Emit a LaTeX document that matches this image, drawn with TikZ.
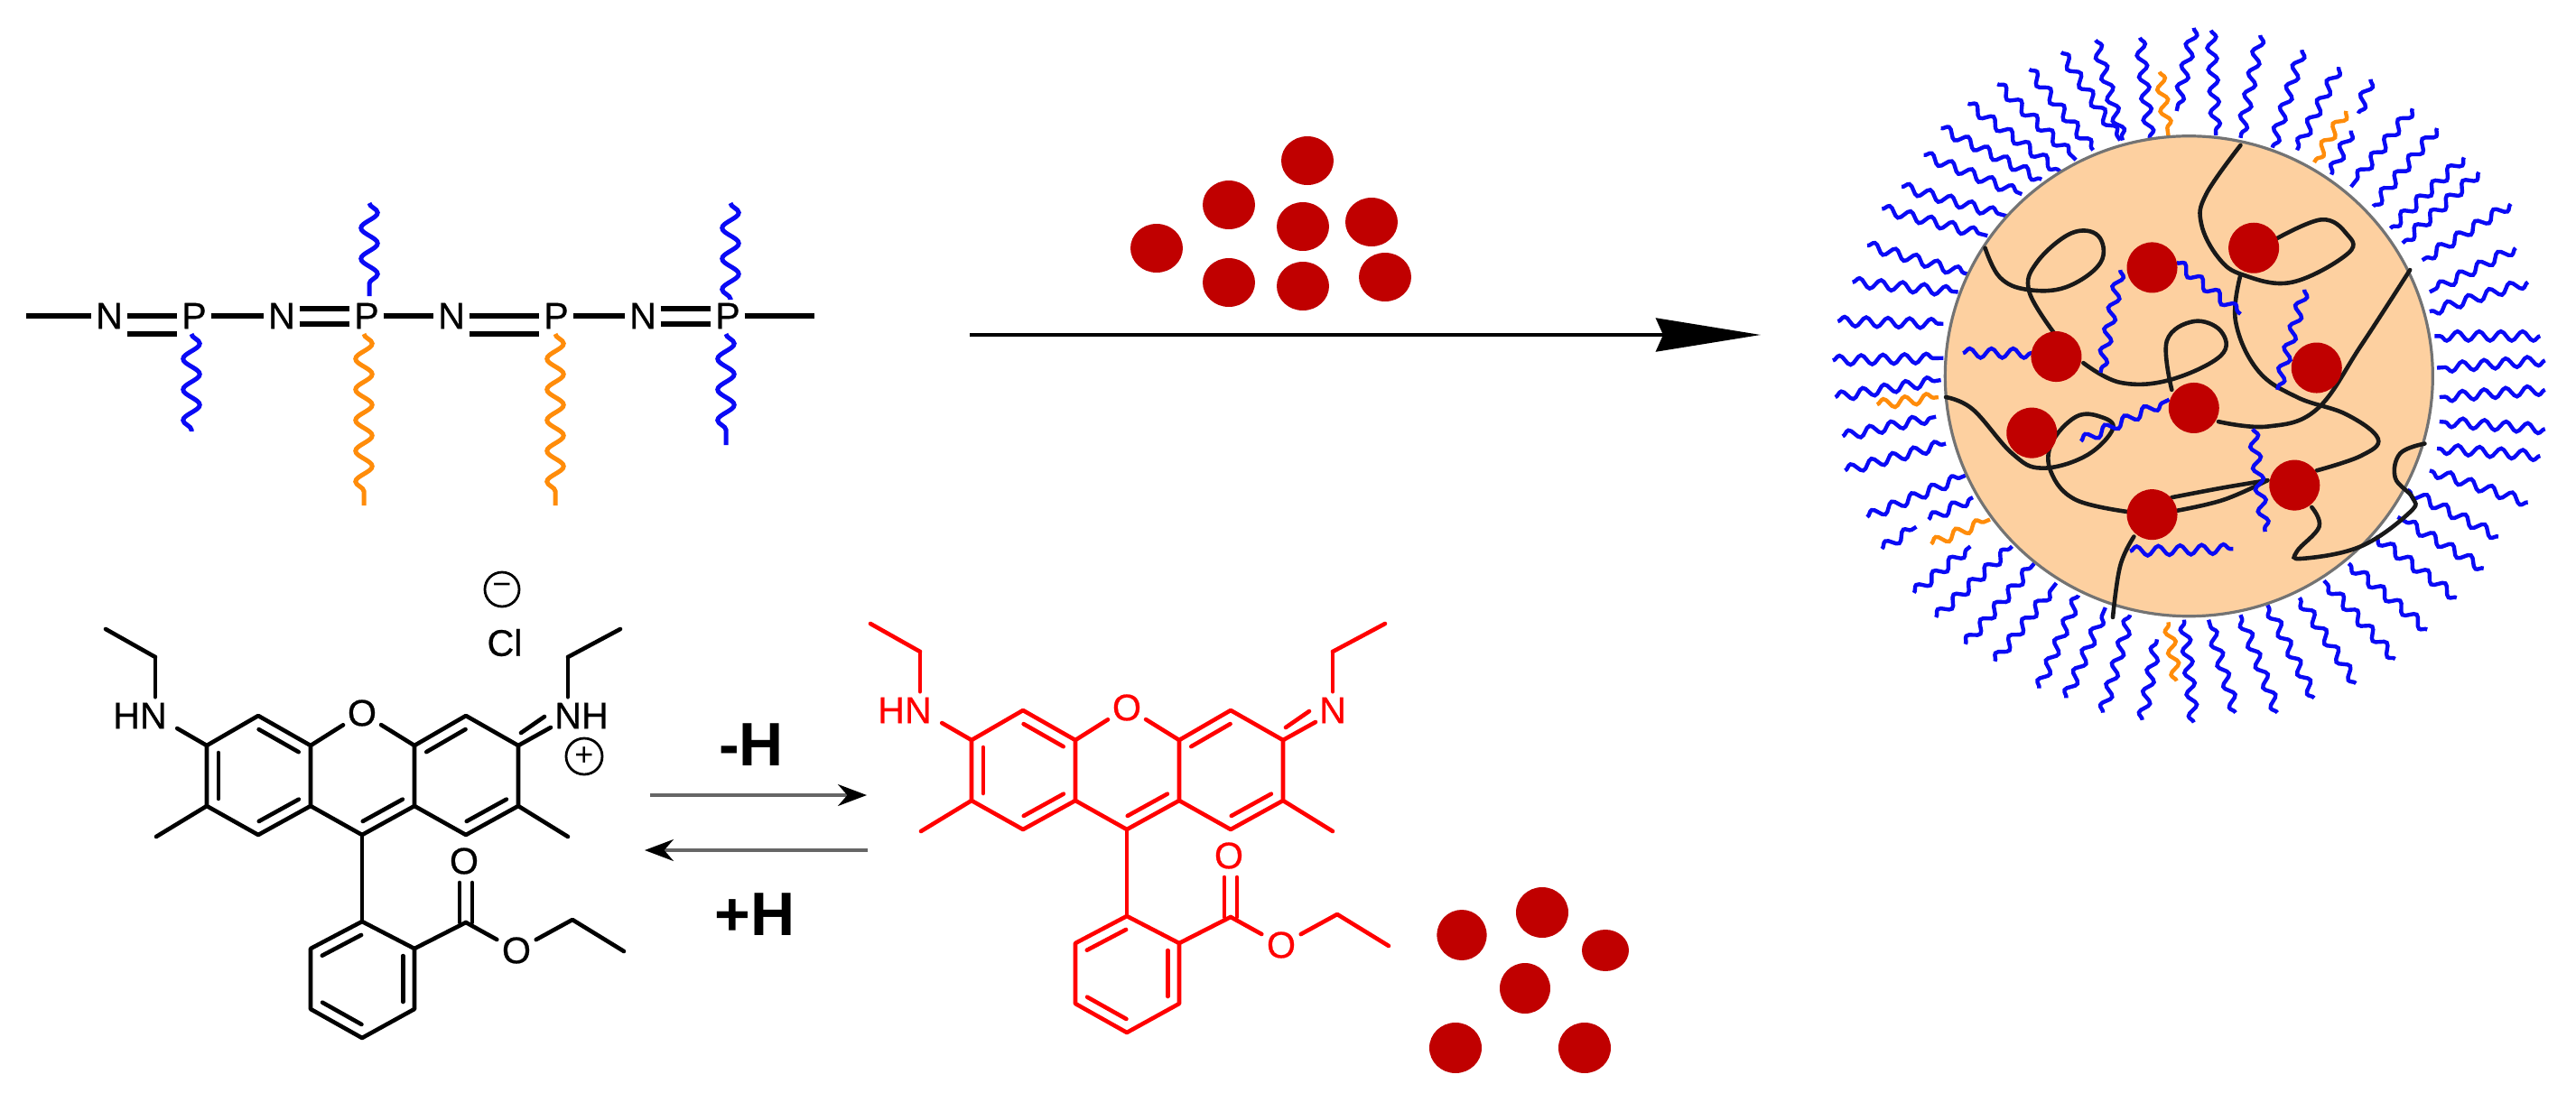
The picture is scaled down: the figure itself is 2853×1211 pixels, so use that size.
\documentclass[tikz,border=0pt]{standalone}
\usepackage{fontspec}
\setmainfont{Liberation Sans}
\newfontfamily\atomfont[FakeBold=0.6]{Liberation Sans}
\usetikzlibrary{calc,decorations.pathmorphing,arrows.meta,shapes.geometric}
\definecolor{brick}{RGB}{192,0,0}
\definecolor{chainblue}{RGB}{10,10,245}
\definecolor{chainorange}{RGB}{255,140,10}
\definecolor{ballfill}{RGB}{253,208,160}
\tikzset{
  atomlabel/.style={inner sep=1pt,font=\atomfont\fontsize{10.3}{12}\selectfont},
  ringatom/.style={circle,inner sep=0pt,minimum size=12pt,font=\atomfont\fontsize{10.3}{12}\selectfont},
  backbone/.style={line width=1.4pt,black},
  bondline/.style={line width=1.15pt,line cap=round,line join=round},
  longwave/.style={line width=1.25pt,decorate,decoration={snake,segment length=8.5pt,amplitude=2.3pt}},
  shortwave/.style={line width=1.1pt,decorate,decoration={snake,segment length=6pt,amplitude=1.3pt}},
  dot/.style={ellipse,fill=brick,draw=none,inner sep=0pt},
  polymer/.style={line width=1.15pt,black!90,smooth,tension=0.65,line cap=round},
  thinarrow/.style={line width=0.8pt,black!60,-{Stealth[length=8pt,width=6pt,black]}},
}
\newcommand{\innerbond}[2]{\draw[bondline] ($(#1)!.12!(#2)!3.2pt!90:(#2)$) -- ($(#2)!.12!(#1)!-3.2pt!90:(#1)$);}
\newcommand{\rhodamine}[6]{%
\begin{scope}[shift={(#2,#3)},draw=#4,text=#4]
  \coordinate (#1a) at (286,793); \coordinate (#1b) at (229,826); \coordinate (#1c) at (229,893);
  \coordinate (#1d) at (286,925); \coordinate (#1e) at (344,893); \coordinate (#1f) at (344,826);
  \coordinate (#1g) at (401,925); \coordinate (#1h) at (459,893); \coordinate (#1i) at (459,826);
  \coordinate (#1j) at (516,793); \coordinate (#1k) at (574,826); \coordinate (#1l) at (574,893);
  \coordinate (#1m) at (516,925);
  \node[ringatom] (#1ox) at (401,790) {O};
  \node[atomlabel] (#1hn) at (155,793) {HN};
  \coordinate (#1nl) at (172,793);
  \node[atomlabel] (#1nr) at (#5,793) {#6};
  \coordinate (#1nn) at (629,793);
  \draw[bondline] (#1a) -- (#1b) -- (#1c) -- (#1d) -- (#1e) -- (#1f) -- cycle;
  \draw[bondline] (#1e) -- (#1g) -- (#1h) -- (#1i);
  \draw[bondline] (#1i) -- (#1j) -- (#1k) -- (#1l) -- (#1m) -- (#1h);
  \draw[bondline] (#1f) -- (#1ox); \draw[bondline] (#1ox) -- (#1i);
  \innerbond{#1f}{#1a} \innerbond{#1b}{#1c} \innerbond{#1d}{#1e}
  \innerbond{#1g}{#1h} \innerbond{#1j}{#1i} \innerbond{#1m}{#1l}
  \coordinate (#1cl) at (172,728); \coordinate (#1ml) at (117,697);
  \coordinate (#1cr) at (629,728); \coordinate (#1mr) at (687,697);
  \draw[bondline] (#1cl) -- (#1ml); \draw[bondline,shorten >=5.2pt] (#1cl) -- (#1nl);
  \draw[bondline] (#1cr) -- (#1mr); \draw[bondline,shorten >=5.2pt] (#1cr) -- (#1nn);
  \draw[bondline,shorten >=7pt] (#1b) -- (#1nl);
  \draw[bondline] (#1k) -- ++(36,-20);
  \draw[bondline] (#1k) ++(3,-14) -- ++(26,-18);
  \coordinate (#1me1) at (173,927); \coordinate (#1me2) at (629,927);
  \draw[bondline] (#1c) -- (#1me1); \draw[bondline] (#1l) -- (#1me2);
  % phenyl
  \coordinate (#1pa) at (401,1021); \coordinate (#1pb) at (344,1051); \coordinate (#1pc) at (344,1118);
  \coordinate (#1pd) at (401,1150); \coordinate (#1pe) at (459,1118); \coordinate (#1pf) at (459,1051);
  \draw[bondline] (#1g) -- (#1pa);
  \draw[bondline] (#1pa) -- (#1pb) -- (#1pc) -- (#1pd) -- (#1pe) -- (#1pf) -- cycle;
  \innerbond{#1pa}{#1pb} \innerbond{#1pc}{#1pd} \innerbond{#1pe}{#1pf}
  % ester
  \coordinate (#1cc) at (516,1022);
  \node[ringatom] (#1co) at (514,954) {O};
  \node[ringatom] (#1eo) at (572,1053) {O};
  \coordinate (#1e1) at (634,1019); \coordinate (#1e2) at (691,1054);
  \draw[bondline] (#1pf) -- (#1cc);
  \draw[bondline] (#1cc) ++(-7,0) -- ++(0,-44);
  \draw[bondline] (#1cc) ++(7,0) -- ++(0,-44);
  \draw[bondline] (#1cc) -- (#1eo); \draw[bondline] (#1eo) -- (#1e1) -- (#1e2);
\end{scope}}
\begin{document}
\begin{tikzpicture}[x=0.25pt,y=-0.25pt]
\useasboundingbox (0,0) rectangle (2853,1211);
\fill[white] (0,0) rectangle (2853,1211);
% polyphosphazene
\coordinate (bl) at (29,350); \coordinate (br) at (902,350);
\node[atomlabel] (n1) at (121,350) {N}; \node[atomlabel] (p1) at (215,350) {P};
\node[atomlabel] (n2) at (312,350) {N}; \node[atomlabel] (p2) at (406,350) {P};
\node[atomlabel] (n3) at (500,350) {N}; \node[atomlabel] (p3) at (616,350) {P};
\node[atomlabel] (n4) at (712,350) {N}; \node[atomlabel] (p4) at (806,350) {P};
\draw[backbone] (bl) -- (n1);
\draw[backbone] (n1) -- (p1); \draw[backbone] ($(n1.east)+(0,20)$) -- ($(p1.west)+(0,20)$);
\draw[backbone] (p1) -- (n2);
\draw[backbone] ($(n2.east)+(0,-8)$) -- ($(p2.west)+(0,-8)$); \draw[backbone] ($(n2.east)+(0,9)$) -- ($(p2.west)+(0,9)$);
\draw[backbone] (p2) -- (n3);
\draw[backbone] (n3) -- (p3); \draw[backbone] ($(n3.east)+(0,20)$) -- ($(p3.west)+(0,20)$);
\draw[backbone] (p3) -- (n4);
\draw[backbone] ($(n4.east)+(0,-8)$) -- ($(p4.west)+(0,-8)$); \draw[backbone] ($(n4.east)+(0,9)$) -- ($(p4.west)+(0,9)$);
\draw[backbone] (p4) -- (br);
\draw[longwave,chainblue] (212,370) -- (212,478);
\draw[longwave,chainblue] (409,225) -- (409,328);
\draw[longwave,chainorange] (403,370) -- (403,560);
\draw[longwave,chainorange] (615,370) -- (615,560);
\draw[longwave,chainblue] (809,225) -- (809,332);
\draw[longwave,chainblue] (804,370) -- (804,493);
% arrow and dots
\coordinate (ra) at (1074,371); \coordinate (rb) at (1950,371);
\draw[line width=1pt,-{Stealth[length=29pt,width=9.25pt,inset=2pt]}] (ra) -- (rb);
\foreach \name/\px/\py in {t1/1448/178,t2/1361/227,t3/1443/251,t4/1519/246,t5/1281/275,t6/1361/313,t7/1443/317,t8/1534/307}
  \node[dot,minimum width=14.5pt,minimum height=13.5pt] (\name) at (\px,\py) {};
% molecules
\rhodamine{k}{0}{0}{black}{644}{NH}
\rhodamine{r}{847}{-6}{red}{629}{N}
\node[circle,draw,line width=0.7pt,minimum size=10pt,inner sep=0pt,font=\fontsize{9}{9}\selectfont] (plus) at (647,838) {+};
\node[circle,draw,line width=0.7pt,minimum size=9.5pt,inner sep=0pt,font=\fontsize{9}{9}\selectfont] (minus) at (556,653) {−};
\node[atomlabel] (cl) at (559,712) {Cl};
\node[font=\bfseries\fontsize{17}{20}\selectfont] (mh) at (832,825) {-H};
\node[font=\bfseries\fontsize{17}{20}\selectfont] (ph) at (836,1013) {+H};
\coordinate (u1) at (720,881); \coordinate (u2) at (960,881);
\coordinate (d1) at (961,942); \coordinate (d2) at (714,942);
\draw[thinarrow] (u1) -- (u2);
\draw[thinarrow] (d1) -- (d2);
\foreach \name/\px/\py/\w/\h in {s1/1619/1036/13.8/14,s2/1708/1011/14.5/14,s3/1778/1053/13/11.5,s4/1689/1095/14/14,s5/1612/1161/14.5/14,s6/1755/1161/14.5/14}
  \node[dot,minimum width=\w pt,minimum height=\h pt] (\name) at (\px,\py) {};
% nanoparticle (zoom-crop coordinates)
\begin{scope}[shift={(2000,20)},x=0.136pt,y=-0.1355pt]
\foreach \xa/\ya/\xb/\yb in {790/20/755/190,825/25/835/240,925/35/885/245,1010/65/950/265,1085/100/1000/270,1150/125/1125/195,1110/230/1070/320,1235/185/1110/345,1285/225/1155/385,1340/285/1190/430,1370/315/1215/460,1435/380/1255/495,1445/470/1270/560,1470/540/1270/600,1495/650/1280/650,1505/700/1285/715,1505/760/1290/775,1505/840/1290/825,1495/895/1285/880,1470/990/1270/925,1410/1060/1225/965,1380/1125/1205/1020,1325/1185/1160/1060,1265/1250/1105/1115,1200/1310/1055/1150,1120/1360/1005/1185,1035/1390/940/1200,960/1420/885/1220,875/1420/820/1230,790/1440/770/1230,685/1435/715/1270,605/1420/660/1220,530/1390/610/1205,475/1370/555/1180,385/1315/510/1155,325/1280/465/1115,265/1225/420/1080,220/1175/335/1080,155/1085/225/1040,250/1025/340/980,125/1020/325/935,80/925/285/870,75/855/265/815,60/775/275/740,55/700/280/695,65/620/280/625,95/540/310/560,125/465/335/525,155/390/370/445,195/345/410/405,240/280/440/360,275/225/480/330,330/175/520/315,390/135/550/290,455/105/585/270,520/70/640/250,590/45/645/250,680/40/700/245}
  \draw[shortwave,chainblue] (\xa,\ya) -- (\xb,\yb);
\foreach \xa/\ya/\xb/\yb in {720/110/738/240,1100/190/1035/295,755/1355/738/1235,255/1075/375/1025,145/790/270/775}
  \draw[shortwave,chainorange] (\xa,\ya) -- (\xb,\yb);
\node[ellipse,draw=black!55,line width=0.8pt,fill=ballfill,minimum width=135pt,minimum height=133pt,inner sep=0pt] (ball) at (780,732) {};
\draw[polymer] plot coordinates {(365,470) (395,530) (450,555) (530,550) (600,500) (595,445) (540,440) (470,500) (455,560) (510,650)};
\draw[polymer] plot coordinates {(565,705) (640,745) (740,740) (845,690) (845,640) (790,620) (735,660) (745,760)};
\draw[polymer] plot coordinates {(840,825) (940,835) (1040,800) (1130,670) (1230,515)};
\draw[polymer] plot coordinates {(885,260) (815,360) (805,420) (840,490) (890,525) (990,540) (1105,480) (1100,440) (1050,412) (960,450)};
\draw[polymer] plot coordinates {(885,525) (875,620) (920,720) (1000,775) (1100,810) (1165,860) (1130,895) (1040,925)};
\draw[polymer] plot coordinates {(1030,1000) (1045,1040) (1000,1090) (1010,1105) (1130,1080) (1230,1010) (1235,980) (1200,940) (1210,890) (1260,870)};
\draw[polymer] plot coordinates {(285,775) (340,800) (420,890) (480,920) (570,895) (625,840) (600,815) (550,815) (500,870) (500,930) (550,985) (660,1010)};
\draw[polymer] plot coordinates {(745,980) (850,960) (940,945)};
\draw[polymer] plot coordinates {(750,1008) (850,985) (940,945)};
\draw[polymer] plot coordinates {(668,1060) (640,1120) (625,1225)};
\foreach \xa/\ya/\xb/\yb in {320/685/460/685,640/515/600/725,755/500/885/605,1015/555/960/760,560/865/740/780,910/840/935/1050,660/1090/870/1085}
  \draw[shortwave,chainblue] (\xa,\ya) -- (\xb,\yb);
\foreach \name/\px/\py in {m1/705/510,m2/912/470,m3/510/692,m4/1040/715,m5/790/797,m6/460/848,m7/995/955,m8/705/1015}
  \node[dot,minimum width=14pt,minimum height=14pt] (\name) at (\px,\py) {};
\end{scope}
\end{tikzpicture}
\end{document}
